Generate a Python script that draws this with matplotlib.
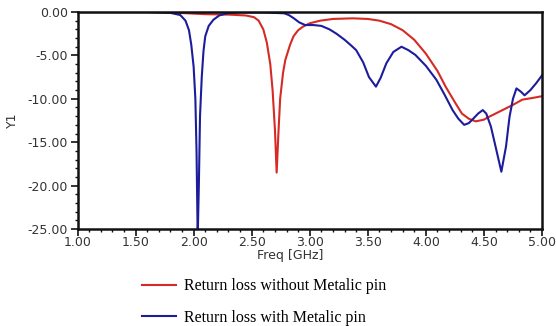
import matplotlib
matplotlib.use("Agg")
import matplotlib.pyplot as plt
from matplotlib.ticker import MultipleLocator, FormatStrFormatter
from matplotlib.lines import Line2D

freq_red = [1.0, 1.5, 1.7, 1.9, 2.1, 2.3, 2.45, 2.52, 2.56, 2.6, 2.63, 2.66, 2.68, 2.70,
            2.715, 2.73, 2.745, 2.77, 2.79, 2.83, 2.86, 2.9, 2.94, 3.0, 3.09, 3.2, 3.37,
            3.5, 3.6, 3.7, 3.8, 3.9, 4.0, 4.1, 4.17, 4.25, 4.31, 4.37, 4.43, 4.5, 4.54,
            4.6, 4.66, 4.75, 4.83, 4.92, 5.0]
rl_without = [0, 0, -0.02, -0.12, -0.25, -0.3, -0.4, -0.6, -1.0, -2.0, -3.5, -6.0, -9.0, -13.5,
              -18.5, -14, -10, -7, -5.5, -3.8, -2.8, -2.1, -1.7, -1.3, -1.0, -0.8, -0.73,
              -0.8, -1.0, -1.4, -2.1, -3.2, -4.8, -6.8, -8.6, -10.4, -11.7, -12.3, -12.6, -12.4, -12.1,
              -11.7, -11.3, -10.7, -10.1, -9.9, -9.7]

freq_blue = [1.0, 1.6, 1.8, 1.885, 1.93, 1.96, 1.98, 2.0, 2.015, 2.025, 2.035, 2.045, 2.055,
             2.07, 2.085, 2.1, 2.13, 2.17, 2.22, 2.29, 2.4, 2.6, 2.78, 2.82, 2.86, 2.91, 2.96,
             3.03, 3.1, 3.17, 3.23, 3.3, 3.36, 3.4, 3.46, 3.51, 3.57, 3.61, 3.66, 3.72, 3.79,
             3.85, 3.91, 4.0, 4.09, 4.16, 4.23, 4.28, 4.33, 4.37, 4.4, 4.45, 4.49, 4.52, 4.56,
             4.6, 4.65, 4.69, 4.72, 4.75, 4.78, 4.82, 4.85, 4.9, 4.95, 5.0]
rl_with = [0, 0, -0.1, -0.35, -1.0, -2.1, -3.8, -6.3, -10, -16, -26, -20, -12,
           -7.5, -4.5, -2.8, -1.6, -0.9, -0.4, -0.15, -0.05, -0.05, -0.15, -0.35, -0.7, -1.2, -1.5,
           -1.5, -1.6, -2.0, -2.5, -3.2, -3.9, -4.4, -5.8, -7.5, -8.6, -7.6, -5.9, -4.6, -4.0,
           -4.4, -4.95, -6.2, -7.8, -9.5, -11.3, -12.3, -13.0, -12.8, -12.4, -11.7, -11.3, -11.7, -13.2,
           -15.5, -18.4, -15.5, -12.1, -10, -8.8, -9.2, -9.6, -9.0, -8.2, -7.3]

legend_labels = ["Return loss without Metalic pin", "Return loss with Metalic pin"]
red = "#d62a24"
blue = "#1c1c9c"

fig = plt.figure(figsize=(5.56, 3.26), dpi=100)
ax = fig.add_axes([77.5/556, 1-229/326, (542-77.5)/556, (229-12)/326])
ax.plot(freq_red, rl_without, color=red, lw=1.5, clip_on=True)
ax.plot(freq_blue, rl_with, color=blue, lw=1.5, clip_on=True)
ax.set_xlim(1.0, 5.0)
ax.set_ylim(-25, 0)
ax.xaxis.set_major_locator(MultipleLocator(0.5))
ax.xaxis.set_minor_locator(MultipleLocator(0.1))
ax.yaxis.set_major_locator(MultipleLocator(5))
ax.yaxis.set_minor_locator(MultipleLocator(1))
ax.xaxis.set_major_formatter(FormatStrFormatter("%.2f"))
ax.yaxis.set_major_formatter(FormatStrFormatter("%.2f"))
for s in ax.spines.values():
    s.set_linewidth(1.8)
    s.set_color("#111111")
ax.tick_params(which="major", direction="out", length=5, width=1.2, labelsize=9, pad=1, colors="#111111")
ax.tick_params(which="minor", direction="out", length=2.5, width=1.0, colors="#111111")
ax.tick_params(axis="y", labelcolor="#333333", pad=2)
ax.tick_params(axis="x", labelcolor="#333333", pad=0)
ax.set_xlabel("Freq [GHz]", fontsize=9, color="#333333")
ax.xaxis.set_label_coords(0.458, -0.122)
ax.xaxis.label.set_va("center")
ax.set_ylabel("Y1", fontsize=9, color="#333333")
ax.yaxis.set_label_coords(-0.14, 0.5)
ax.yaxis.label.set_va("center")

handles = [Line2D([0], [0], color=red, lw=1.5), Line2D([0], [0], color=blue, lw=1.5)]
fig.legend(handles, legend_labels, loc="upper left", bbox_to_anchor=(128/556, 1-264/326),
           frameon=False, prop={"family": "Liberation Serif", "size": 11.5},
           handlelength=2.1, handletextpad=0.5, labelspacing=0.95)
fig.savefig("out.png", dpi=100)
